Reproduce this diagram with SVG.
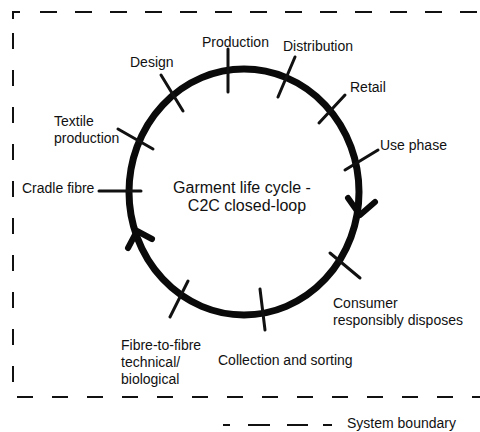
<svg xmlns="http://www.w3.org/2000/svg" width="480" height="432" viewBox="0 0 480 432">
<style>
.bd{fill:none;stroke:#111;stroke-width:2;stroke-dasharray:17 18}
.ring{fill:none;stroke:#0a0a0a;stroke-width:7}
.tick{stroke:#111;stroke-width:3;stroke-linecap:round}
.arr{fill:none;stroke:#0a0a0a;stroke-width:6;stroke-linecap:round;stroke-linejoin:round}
text{font-family:"Liberation Sans",Arial,sans-serif;font-size:14px;fill:#111}
.c{font-size:16px;text-anchor:middle}
</style>
<rect width="480" height="432" fill="#fff"/>
<g id="boundary">
<path d="M20,12 H13 V19" fill="none" stroke="#111" stroke-width="2"/>
<path class="bd" d="M40,12 H480"/>
<path class="bd" d="M13,33 V392" style="stroke-dasharray:16 21"/>
<path class="bd" d="M17,397 H480" style="stroke-dasharray:16 19"/>
</g>
<g id="cycle">
<ellipse class="ring" cx="244" cy="192" rx="115" ry="123"/>
<text class="c" x="242" y="193">Garment life cycle -</text>
<text class="c" x="247" y="211">C2C closed-loop</text>
</g>
<g id="connectors">
<polyline class="arr" points="348,198 360,215 375,202"/>
<polyline class="arr" points="128,248 137,231 152,239"/>
</g>
<g id="textile"><line class="tick" x1="118" y1="129" x2="153" y2="149"/><text x="54" y="126">Textile</text><text x="54" y="143">production</text></g>
<g id="design"><line class="tick" x1="161" y1="75" x2="183" y2="111"/><text x="130" y="67">Design</text></g>
<g id="production"><line class="tick" x1="228" y1="49" x2="228" y2="92"/><text x="202" y="47">Production</text></g>
<g id="distribution"><line class="tick" x1="295" y1="57" x2="278" y2="97"/><text x="283" y="51">Distribution</text></g>
<g id="retail"><line class="tick" x1="345" y1="95" x2="319" y2="123"/><text x="350" y="92">Retail</text></g>
<g id="use"><line class="tick" x1="378" y1="150" x2="345" y2="170"/><text x="380" y="150">Use phase</text></g>
<g id="cradle"><line class="tick" x1="99" y1="191" x2="141" y2="191"/><text x="22" y="193">Cradle fibre</text></g>
<g id="consumer"><line class="tick" x1="330" y1="253" x2="360" y2="278"/><text x="333" y="308">Consumer</text><text x="333" y="325">responsibly disposes</text></g>
<g id="collection"><line class="tick" x1="260" y1="289" x2="265" y2="330"/><text x="218" y="365">Collection and sorting</text></g>
<g id="fibre"><line class="tick" x1="188" y1="281" x2="170" y2="317"/><text x="121" y="350">Fibre-to-fibre</text><text x="121" y="367">technical/</text><text x="121" y="384">biological</text></g>
<g id="legend">
<path d="M223,425 H230 M248,425 H270 M287,425 H308 M323,425 H332" stroke="#111" stroke-width="2"/>
<text x="347" y="428">System boundary</text>
</g>
</svg>
